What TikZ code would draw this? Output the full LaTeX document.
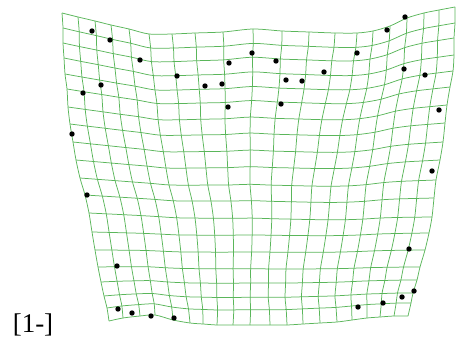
\documentclass[tikz,border=0pt]{standalone}
\usepackage{fontspec}
\setmainfont{Liberation Serif}
\definecolor{gridgreen}{RGB}{90,182,90}
\tikzset{gridline/.style={draw=gridgreen,line width=0.75pt,line join=round},
  landmark/.style={fill=black}}
\def\Tx{{62,78,95,111,129,149,172,195,223,253,282,309,335,357,373,390,407,424,439,455}}
\def\Ty{{13,17,21,25,29,34,34,33,32,29,31,32,33,33,31,26,18,13,10,7}}
\def\Bx{{109,123,140,155,173,190,203,217,233,250,270,287,303,320,337,352,367,380,394,408}}
\def\By{{321,318,316,315,320,323,324,325,325,325,325,325,324,323,322,320,318,317,316,316}}
\def\Lx{{62,63,63,64,65,67,68,70,73,76,80,85,89,92,95,98,101,104,107,109}}
\def\Ly{{13,28,43,58,74,89,107,124,142,160,178,195,213,232,250,267,282,296,308,321}}
\def\Rx{{455,455,454,454,453,450,447,445,443,440,436,434,432,429,425,420,417,413,411,408}}
\def\Ry{{7,23,38,55,71,87,105,123,142,160,180,198,217,233,250,267,280,293,303,316}}
\begin{document}
\begin{tikzpicture}[x=1pt,y=-1pt]
\useasboundingbox (0,0) rectangle (473,344);
% grid vertices: blend of the four measured border lines
\foreach \j in {0,...,19}{
  \pgfmathsetmacro\v{\j/19}
  \pgfmathsetmacro\ft{(1-\v)^(1+1.3*\v)}
  \pgfmathsetmacro\gb{\v^8}
  \foreach \i in {0,...,19}{
    \pgfmathsetmacro\u{\i/19}
    \pgfmathsetmacro\X{(1-\u)*\Lx[\j]+\u*\Rx[\j]+\ft*(\Tx[\i]-((1-\u)*62+\u*455))+\gb*(\Bx[\i]-((1-\u)*109+\u*408))}
    \pgfmathsetmacro\Y{(1-\u)*\Ly[\j]+\u*\Ry[\j]+\ft*(\Ty[\i]-((1-\u)*13+\u*7))+\gb*(\By[\i]-((1-\u)*321+\u*316))}
    \coordinate (p\i-\j) at (\X,\Y);
  }
}
% horizontal lines
\foreach \j in {0,...,19}{
  \gdef\pts{}
  \foreach \i in {0,...,19}{\xdef\pts{\pts (p\i-\j)}}
  \edef\tmp{\noexpand\draw[gridline] plot[smooth,tension=0.5] coordinates {\pts};}\tmp
}
% vertical lines
\foreach \i in {0,...,19}{
  \gdef\pts{}
  \foreach \j in {0,...,19}{\xdef\pts{\pts (p\i-\j)}}
  \edef\tmp{\noexpand\draw[gridline] plot[smooth,tension=0.5] coordinates {\pts};}\tmp
}
% landmarks
\foreach \px/\py in {92/31,110/40,140/60,177/76,205/86,222/84,228/107,229/63,252/53,276/61,286/80,302/81,324/72,281/104,357/53,387/30,405/17,404/69,425/75,439/110,101/85,83/93,72/134,87/195,117/266,118/309,132/313,151/316,174/318,432/171,409/249,414/291,402/297,383/303,358/307}
  \fill[landmark] (\px,\py) circle[radius=2.7pt];
\node[font=\fontsize{27}{31}\selectfont,anchor=base] (lbl) at (33,332.5) {[1-]};
\end{tikzpicture}
\end{document}
